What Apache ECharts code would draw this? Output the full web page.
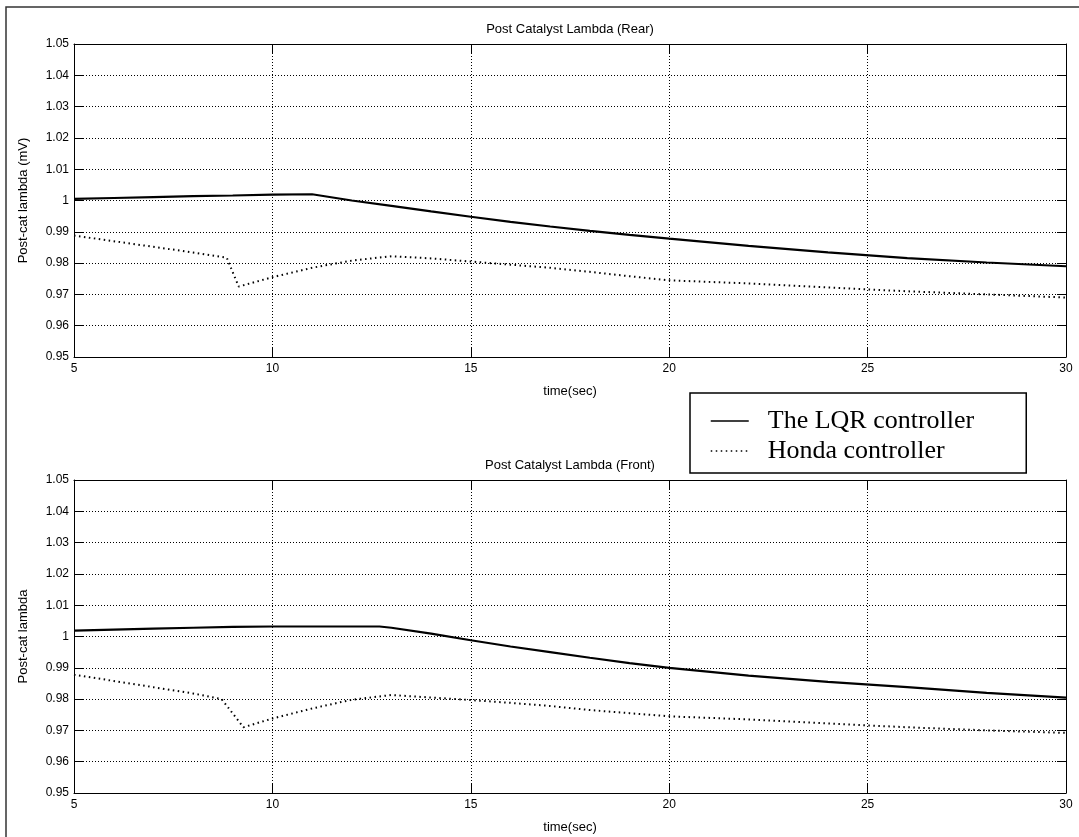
<!DOCTYPE html>
<html>
<head>
<meta charset="utf-8">
<script src="https://cdn.jsdelivr.net/npm/echarts@6/dist/echarts.min.js"></script>
<style>
  html, body { margin: 0; padding: 0; background: #fff; }
  #chart { width: 1079px; height: 837px; }
</style>
</head>
<body>
<div id="chart"></div>
<script>
// Rear sensor: LQR controller
const rearLqrTime = [5, 6, 7, 8, 9, 10, 11, 12, 13, 14, 15, 16, 17, 18, 19, 20, 22, 24, 26, 28, 30];
const rearLqrValue = [1.0005, 1.0008, 1.0011, 1.0014, 1.0016, 1.0019, 1.0020, 1.0000, 0.9983, 0.9965, 0.9948,
  0.9932, 0.9917, 0.9903, 0.9890, 0.9878, 0.9855, 0.9834, 0.9816, 0.9802, 0.9790];
// Rear sensor: Honda controller
const rearHondaTime = [5, 6, 7, 8, 8.85, 9.15, 10, 11, 12, 13, 14, 15, 16, 17, 18, 19, 20, 22, 24, 26, 28, 30];
const rearHondaValue = [0.9888, 0.9870, 0.9852, 0.9834, 0.9817, 0.9725, 0.9755, 0.9785, 0.9808, 0.9822, 0.9815,
  0.9805, 0.9795, 0.9785, 0.9772, 0.9758, 0.9745, 0.9735, 0.9722, 0.9710, 0.9700, 0.9690];
// Front sensor: LQR controller
const frontLqrTime = [5, 6, 7, 8, 9, 10, 11, 12, 12.7, 13, 14, 15, 16, 17, 18, 19, 20, 22, 24, 26, 28, 30];
const frontLqrValue = [1.0019, 1.0022, 1.0025, 1.0028, 1.0031, 1.0032, 1.0032, 1.0032, 1.0032, 1.0028, 1.0009,
  0.9988, 0.9968, 0.9950, 0.9932, 0.9915, 0.9900, 0.9875, 0.9855, 0.9838, 0.9820, 0.9805];
// Front sensor: Honda controller
const frontHondaTime = [5, 6, 7, 8, 8.72, 9.27, 10, 11, 12, 13, 14, 15, 16, 17, 18, 19, 20, 22, 24, 26, 28, 30];
const frontHondaValue = [0.9878, 0.9858, 0.9838, 0.9818, 0.9800, 0.9710, 0.9738, 0.9770, 0.9798, 0.9813, 0.9805,
  0.9797, 0.9788, 0.9778, 0.9765, 0.9755, 0.9745, 0.9735, 0.9722, 0.9710, 0.9700, 0.9692];

const panelTitles = ['Post Catalyst Lambda (Rear)', 'Post Catalyst Lambda (Front)'];
const yAxisNames = ['Post-cat lambda (mV)', 'Post-cat lambda'];
const xAxisName = 'time(sec)';
const seriesNames = ['The LQR controller', 'Honda controller'];

const pairs = (t, v) => t.map((x, i) => [x, v[i]]);

const SANS = 'Arial, "Liberation Sans", Helvetica, sans-serif';
const SERIF = '"Times New Roman", "Liberation Serif", serif';

const panels = [
  { top: 44, lqr: pairs(rearLqrTime, rearLqrValue), honda: pairs(rearHondaTime, rearHondaValue) },
  { top: 480, lqr: pairs(frontLqrTime, frontLqrValue), honda: pairs(frontHondaTime, frontHondaValue) }
];

const gridSplit = { show: true, lineStyle: { color: '#000', width: 1, type: [1, 2] } };
const axisLine = { show: true, onZero: false, lineStyle: { color: '#000', width: 1 } };
const tickIn = { show: true, inside: true, length: 9, lineStyle: { color: '#000', width: 1 } };
const fmtY = v => String(parseFloat(v.toFixed(2)));

const grid = [], xAxis = [], yAxis = [], series = [], title = [];
panels.forEach((p, i) => {
  grid.push({ left: 74, top: p.top, width: 992, height: 313, show: false });
  title.push({
    text: panelTitles[i], left: 570, top: p.top - 21, textAlign: 'center', padding: 0,
    textStyle: { fontFamily: SANS, fontSize: 13, fontWeight: 'normal', color: '#000' }
  });
  // bottom axis with labels and grid lines
  xAxis.push({
    type: 'value', gridIndex: i, position: 'bottom', min: 5, max: 30, interval: 5,
    axisLine, axisTick: tickIn, splitLine: gridSplit,
    axisLabel: { color: '#000', fontFamily: SANS, fontSize: 12, margin: 6 },
    name: xAxisName, nameLocation: 'middle', nameGap: 28,
    nameTextStyle: { color: '#000', fontFamily: SANS, fontSize: 13 }
  });
  // top edge of the box
  xAxis.push({
    type: 'value', gridIndex: i, position: 'top', min: 5, max: 30, interval: 5,
    axisLine, axisTick: tickIn, splitLine: { show: false }, axisLabel: { show: false }
  });
  yAxis.push({
    type: 'value', gridIndex: i, position: 'left', min: 0.95, max: 1.05, interval: 0.01,
    axisLine, axisTick: tickIn, splitLine: gridSplit,
    axisLabel: { color: '#000', fontFamily: SANS, fontSize: 12, margin: 5, formatter: fmtY },
    name: yAxisNames[i], nameLocation: 'middle', nameGap: 44, nameRotate: 90,
    nameTextStyle: { color: '#000', fontFamily: SANS, fontSize: 13 }
  });
  // right edge of the box
  yAxis.push({
    type: 'value', gridIndex: i, position: 'right', min: 0.95, max: 1.05, interval: 0.01,
    axisLine, axisTick: tickIn, splitLine: { show: false }, axisLabel: { show: false }
  });
  series.push({
    name: seriesNames[0], type: 'line', xAxisIndex: i * 2, yAxisIndex: i * 2,
    data: p.lqr, showSymbol: false, symbol: 'none', animation: false,
    lineStyle: { color: '#000', width: 2.2, type: 'solid' }, itemStyle: { color: '#000' }
  });
  series.push({
    name: seriesNames[1], type: 'line', xAxisIndex: i * 2, yAxisIndex: i * 2,
    data: p.honda, showSymbol: false, symbol: 'none', animation: false,
    lineStyle: { color: '#000', width: 2, type: [1.5, 3.5] }, itemStyle: { color: '#000' }
  });
});

const chart = echarts.init(document.getElementById('chart'), null, { renderer: 'canvas' });
chart.setOption({
  backgroundColor: '#fff',
  animation: false,
  title,
  grid,
  xAxis,
  yAxis,
  series,
  legend: {
    data: seriesNames, orient: 'vertical', left: 690, top: 393,
    padding: [13, 52, 7, 20], itemGap: 0, itemWidth: 38, itemHeight: 30,
    backgroundColor: '#fff', borderColor: '#000', borderWidth: 1.5,
    selectedMode: false,
    // line samples only: the marker glyph is made invisible
    itemStyle: { color: 'rgba(0,0,0,0)', borderColor: 'rgba(0,0,0,0)', borderWidth: 0, opacity: 0 },
    lineStyle: { width: 1.5 },
    textStyle: { fontFamily: SERIF, fontSize: 26, color: '#000', lineHeight: 30, padding: [0, 0, 0, 14] }
  },
  graphic: [{
    type: 'rect', z: -1, silent: true,
    shape: { x: 6, y: 7, width: 1100, height: 900 },
    style: { fill: null, stroke: '#333', lineWidth: 1.5 }
  }]
});
</script>
</body>
</html>
